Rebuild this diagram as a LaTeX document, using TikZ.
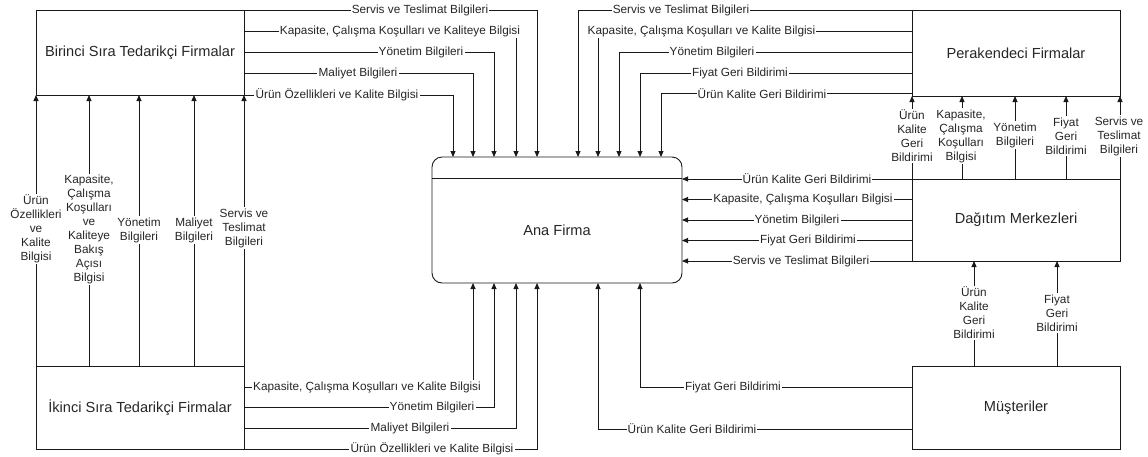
\documentclass[tikz,border=0pt]{standalone}
\usepackage{fontspec}
\setmainfont{Liberation Sans}
\usetikzlibrary{arrows.meta,calc}
\begin{document}
\begin{tikzpicture}[x=1pt,y=-1pt,
  box/.style={draw=black!90, line width=0.9pt, inner sep=0pt, outer sep=0pt, text=black!85,
    font=\fontsize{14.6}{17}\selectfont},
  lbl/.style={fill=white, inner sep=1.2pt, align=center, text=black!85,
    font=\fontsize{11.8}{14}\selectfont},
  conn/.style={draw=black!90, line width=0.9pt},
  arr/.style={conn, -{Triangle[length=6pt,width=5pt]}}]
\useasboundingbox (0,0) rectangle (1148,456);

% boxes
\node[box, minimum width=208pt, minimum height=85pt] (bir) at (140,52.5) {Birinci Sıra Tedarikçi Firmalar};
\node[box, minimum width=208pt, minimum height=83pt] (iki) at (140,407.5) {İkinci Sıra Tedarikçi Firmalar};
\node[box, minimum width=208pt, minimum height=86pt] (per) at (1016,53) {Perakendeci Firmalar};
\node[box, minimum width=208pt, minimum height=82pt] (dag) at (1016,220) {Dağıtım Merkezleri};
\node[box, minimum width=208pt, minimum height=83pt] (mus) at (1016,407.5) {Müşteriler};
\node[box, rounded corners=10pt, minimum width=250pt, minimum height=126pt] (ana) at (557,220) {};
\draw[conn] ([yshift=-21pt]ana.north west) -- ([yshift=-21pt]ana.north east);
\node[box, draw=none] (anatxt) at (557,230.5) {Ana Firma};

% points on Ana Firma
\coordinate (a1) at ($(ana.north west)+(21,0)$);
\coordinate (a2) at ($(ana.north west)+(41,0)$);
\coordinate (a3) at ($(ana.north west)+(62,0)$);
\coordinate (a4) at ($(ana.north west)+(84,0)$);
\coordinate (a5) at ($(ana.north west)+(105,0)$);
\coordinate (a6) at ($(ana.north west)+(146,0)$);
\coordinate (a7) at ($(ana.north west)+(166,0)$);
\coordinate (a8) at ($(ana.north west)+(187,0)$);
\coordinate (a9) at ($(ana.north west)+(208,0)$);
\coordinate (a10) at ($(ana.north west)+(229,0)$);
\coordinate (b2) at ($(ana.south west)+(41,0)$);
\coordinate (b3) at ($(ana.south west)+(62,0)$);
\coordinate (b4) at ($(ana.south west)+(84,0)$);
\coordinate (b5) at ($(ana.south west)+(105,0)$);
\coordinate (b6) at ($(ana.south west)+(166,0)$);
\coordinate (b7) at ($(ana.south west)+(208,0)$);

% Birinci -> Ana
\coordinate (bl2) at ([yshift=-21.5pt]bir.north east);
\coordinate (bl3) at ([yshift=-42pt]bir.north east);
\coordinate (bl4) at ([yshift=-63pt]bir.north east);
\draw[arr] (bir.north east) -| (a5);
\draw[arr] (bl2) -| (a4);
\draw[arr] (bl3) -| (a3);
\draw[arr] (bl4) -| (a2);
\draw[arr] (bir.south east) -| (a1);
\node[lbl] (t1) at (420,10) {Servis ve Teslimat Bilgileri};
\node[lbl] (t2) at (400,31.5) {Kapasite, Çalışma Koşulları ve Kaliteye Bilgisi};
\node[lbl] (t3) at (421,52) {Yönetim Bilgileri};
\node[lbl] (t4) at (358,73) {Maliyet Bilgileri};
\node[lbl] (t5) at (337,95) {Ürün Özellikleri ve Kalite Bilgisi};

% Perakendeci -> Ana
\coordinate (pr2) at ([yshift=-21.5pt]per.north west);
\coordinate (pr3) at ([yshift=-42pt]per.north west);
\coordinate (pr4) at ([yshift=-63pt]per.north west);
\coordinate (pr5) at ([yshift=-83.5pt]per.north west);
\draw[arr] (per.north west) -| (a6);
\draw[arr] (pr2) -| (a7);
\draw[arr] (pr3) -| (a8);
\draw[arr] (pr4) -| (a9);
\draw[arr] (pr5) -| (a10);
\node[lbl] (p1) at (681,10) {Servis ve Teslimat Bilgileri};
\node[lbl] (p2) at (701.5,31.5) {Kapasite, Çalışma Koşulları ve Kalite Bilgisi};
\node[lbl] (p3) at (712,52) {Yönetim Bilgileri};
\node[lbl] (p4) at (740,73) {Fiyat Geri Bildirimi};
\node[lbl] (p5) at (762,93.5) {Ürün Kalite Geri Bildirimi};

% Ikinci -> Birinci
\coordinate (lv2) at ([xshift=53pt]iki.north west);
\coordinate (lv3) at ([xshift=103pt]iki.north west);
\coordinate (lv4) at ([xshift=158pt]iki.north west);
\draw[arr] (iki.north west) -- (bir.south west);
\draw[arr] (lv2) -- (lv2 |- bir.south);
\draw[arr] (lv3) -- (lv3 |- bir.south);
\draw[arr] (lv4) -- (lv4 |- bir.south);
\draw[arr] (iki.north east) -- (bir.south east);
\node[lbl] (v1) at (36,229) {Ürün\\Özellikleri\\ve\\Kalite\\Bilgisi};
\node[lbl] (v2) at (89,229.5) {Kapasite,\\Çalışma\\Koşulları\\ve\\Kaliteye\\Bakış\\Açısı\\Bilgisi};
\node[lbl] (v3) at (139,230) {Yönetim\\Bilgileri};
\node[lbl] (v4) at (194,230) {Maliyet\\Bilgileri};
\node[lbl] (v5) at (244,228) {Servis ve\\Teslimat\\Bilgileri};

% Ikinci -> Ana
\coordinate (il1) at ([yshift=-21pt]iki.north east);
\coordinate (il3) at ([yshift=-62pt]iki.north east);
\draw[arr] (il1) -| (b2);
\draw[arr] (iki.east) -| (b3);
\draw[arr] (il3) -| (b4);
\draw[arr] (iki.south east) -| (b5);
\node[lbl] (k1) at (367,387) {Kapasite, Çalışma Koşulları ve Kalite Bilgisi};
\node[lbl] (k2) at (432,407.5) {Yönetim Bilgileri};
\node[lbl] (k3) at (410,428) {Maliyet Bilgileri};
\node[lbl] (k4) at (432,449) {Ürün Özellikleri ve Kalite Bilgisi};

% Dagitim -> Ana
\coordinate (r2) at ([yshift=-20.5pt]dag.north west);
\coordinate (r4) at ([yshift=-61.5pt]dag.north west);
\draw[arr] (dag.north west) -- (dag.north west -| ana.east);
\draw[arr] (r2) -- (r2 -| ana.east);
\draw[arr] (dag.west) -- (dag.west -| ana.east);
\draw[arr] (r4) -- (r4 -| ana.east);
\draw[arr] (dag.south west) -- (dag.south west -| ana.east);
\node[lbl] (d1) at (807,179) {Ürün Kalite Geri Bildirimi};
\node[lbl] (d2) at (803,199.5) {Kapasite, Çalışma Koşulları Bilgisi};
\node[lbl] (d3) at (797,220) {Yönetim Bilgileri};
\node[lbl] (d4) at (808,240.5) {Fiyat Geri Bildirimi};
\node[lbl] (d5) at (801,261) {Servis ve Teslimat Bilgileri};

% Dagitim -> Perakendeci
\coordinate (dv2) at ([xshift=50pt]dag.north west);
\coordinate (dv3) at ([xshift=103pt]dag.north west);
\coordinate (dv4) at ([xshift=154pt]dag.north west);
\draw[arr] (dag.north west) -- (per.south west);
\draw[arr] (dv2) -- (dv2 |- per.south);
\draw[arr] (dv3) -- (dv3 |- per.south);
\draw[arr] (dv4) -- (dv4 |- per.south);
\draw[arr] (dag.north east) -- (per.south east);
\node[lbl] (u1) at (912,136) {Ürün\\Kalite\\Geri\\Bildirimi};
\node[lbl] (u2) at (961,136) {Kapasite,\\Çalışma\\Koşulları\\Bilgisi};
\node[lbl] (u3) at (1015,135) {Yönetim\\Bilgileri};
\node[lbl] (u4) at (1066,136) {Fiyat\\Geri\\Bildirimi};
\node[lbl] (u5) at (1119,136) {Servis ve\\Teslimat\\Bilgileri};

% Musteriler -> Dagitim
\coordinate (mv1) at ([xshift=62pt]mus.north west);
\coordinate (mv2) at ([xshift=145pt]mus.north west);
\draw[arr] (mv1) -- (mv1 |- dag.south);
\draw[arr] (mv2) -- (mv2 |- dag.south);
\node[lbl] (m1) at (974,313) {Ürün\\Kalite\\Geri\\Bildirimi};
\node[lbl] (m2) at (1057,313) {Fiyat\\Geri\\Bildirimi};

% Musteriler -> Ana
\coordinate (ml1) at ([yshift=-21pt]mus.north west);
\coordinate (ml2) at ([yshift=-63pt]mus.north west);
\draw[arr] (ml1) -| (b7);
\draw[arr] (ml2) -| (b6);
\node[lbl] (n1) at (733,387) {Fiyat Geri Bildirimi};
\node[lbl] (n2) at (692,429) {Ürün Kalite Geri Bildirimi};
\end{tikzpicture}
\end{document}
